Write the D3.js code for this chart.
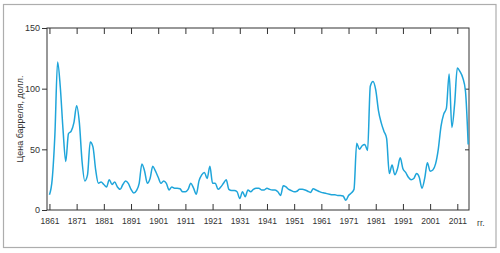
<!DOCTYPE html>
<html>
<head>
<meta charset="utf-8">
<script src="https://cdn.jsdelivr.net/npm/d3@7"></script>
<style>
  body { margin: 0; background: #fff; }
  svg { display: block; font-family: "Liberation Sans", Arial, sans-serif; }
</style>
</head>
<body>
<div id="chart"></div>
<script>
// --- Data: oil price per barrel, 1861-2015 ---
const years = d3.range(1861, 2016);
const prices = [
  12.5, 25, 62, 122, 101, 66, 40, 63, 65, 72,      // 1861-1870
  86, 72, 40, 24, 29, 56, 52, 33, 22, 23,          // 1871-1880
  21, 19, 25, 21, 23, 19, 17, 21, 24, 22,          // 1881-1890
  17, 14, 16, 22, 38, 32, 22, 26, 36, 32,          // 1891-1900
  27, 22, 24, 22, 16.5, 19, 18, 18, 17.5, 15,      // 1901-1910
  15, 17, 22, 18, 13, 24, 29, 31, 26, 36,          // 1911-1920
  22, 22, 17, 19, 22, 25, 17, 16, 16, 15,          // 1921-1930
  9.5, 15, 11, 16.5, 15, 17, 18, 18, 16.5, 16.5,   // 1931-1940
  18, 17, 16.5, 16.5, 15, 12, 20, 19, 17, 16,      // 1941-1950
  15, 15.5, 17, 17, 16.5, 15.5, 14.5, 17.5, 16.5, 15.5, // 1951-1960
  14.5, 14, 13.5, 13, 12.5, 12.5, 12, 12, 11.5, 8, // 1961-1970
  12, 14, 17, 55, 50, 53, 54, 49, 102, 106,        // 1971-1980
  99, 82, 72, 65, 59, 30, 37, 29, 34, 43,          // 1981-1990
  34, 31, 27, 25, 26, 30, 27, 18, 26, 39,          // 1991-2000
  32, 33, 38, 50, 69, 79, 84, 112, 68, 87,         // 2001-2010
  117, 114, 109, 98, 54                            // 2011-2015
];
const xTicks = d3.range(1861, 2012, 10);
const yTicksLeft = [0, 50, 100, 150];
const yTicksRight = [50, 100];
const yLabel = "Цена барреля, долл.";
const xUnit = "гг.";

const data = years.map((y, i) => ({ year: y, price: prices[i] }));

// 1. Canvas
const width = 500, height = 253;
const svg = d3.select("#chart").append("svg")
    .attr("width", width).attr("height", height);

// outer light frame
svg.append("rect")
    .attr("x", 3.5).attr("y", 4.5)
    .attr("width", 492.5).attr("height", 243)
    .attr("fill", "none").attr("stroke", "#adadad").attr("stroke-width", 1.2);

const plot = { left: 47, right: 469, top: 28, bottom: 210 };

// 2. Scales
const x = d3.scaleLinear().domain([1860.1, 2015.3]).range([plot.left, plot.right]);
const y = d3.scaleLinear().domain([0, 150]).range([plot.bottom, plot.top]);

// 3. Axes
const axisColor = "#333";
const styleAxis = g => {
    g.select(".domain").remove();
    g.selectAll(".tick line").attr("stroke", axisColor);
    g.selectAll(".tick text").attr("fill", "#333");
};

svg.append("g")
    .attr("transform", `translate(0,${plot.bottom})`)
    .call(d3.axisBottom(x).tickValues(xTicks).tickFormat(d3.format("d"))
        .tickSizeInner(-6).tickSizeOuter(0).tickPadding(8))
    .call(styleAxis)
    .selectAll("text").style("font-size", "8.5px");

svg.append("g")
    .attr("transform", `translate(0,${plot.top})`)
    .call(d3.axisTop(x).tickValues(xTicks).tickFormat("")
        .tickSizeInner(-6).tickSizeOuter(0))
    .call(styleAxis);

svg.append("g")
    .attr("transform", `translate(${plot.left},0)`)
    .call(d3.axisLeft(y).tickValues(yTicksLeft).tickSizeInner(5).tickSizeOuter(0).tickPadding(2))
    .call(styleAxis)
    .selectAll("text").style("font-size", "9px");

svg.append("g")
    .attr("transform", `translate(${plot.right},0)`)
    .call(d3.axisRight(y).tickValues(yTicksRight).tickFormat("")
        .tickSizeInner(-4).tickSizeOuter(0))
    .call(styleAxis);

// plot frame
svg.append("rect")
    .attr("x", plot.left).attr("y", plot.top)
    .attr("width", plot.right - plot.left).attr("height", plot.bottom - plot.top)
    .attr("fill", "none").attr("stroke", axisColor).attr("stroke-width", 1);

// Labels
svg.append("text")
    .attr("transform", `translate(21,${(plot.top + plot.bottom) / 2}) rotate(-90)`)
    .attr("text-anchor", "middle").attr("dominant-baseline", "middle")
    .attr("fill", "#333").style("font-size", "9px")
    .text(yLabel);

svg.append("text")
    .attr("x", 477).attr("y", plot.bottom + 16)
    .attr("fill", "#333").style("font-size", "8.5px")
    .text(xUnit);

// 4. Line
const line = d3.line()
    .x(d => x(d.year))
    .y(d => y(d.price))
    .curve(d3.curveMonotoneX);

svg.append("path")
    .datum(data)
    .attr("d", line)
    .attr("fill", "none")
    .attr("stroke", "#1fa5da")
    .attr("stroke-width", 1.5)
    .attr("stroke-linejoin", "round");
</script>
</body>
</html>
